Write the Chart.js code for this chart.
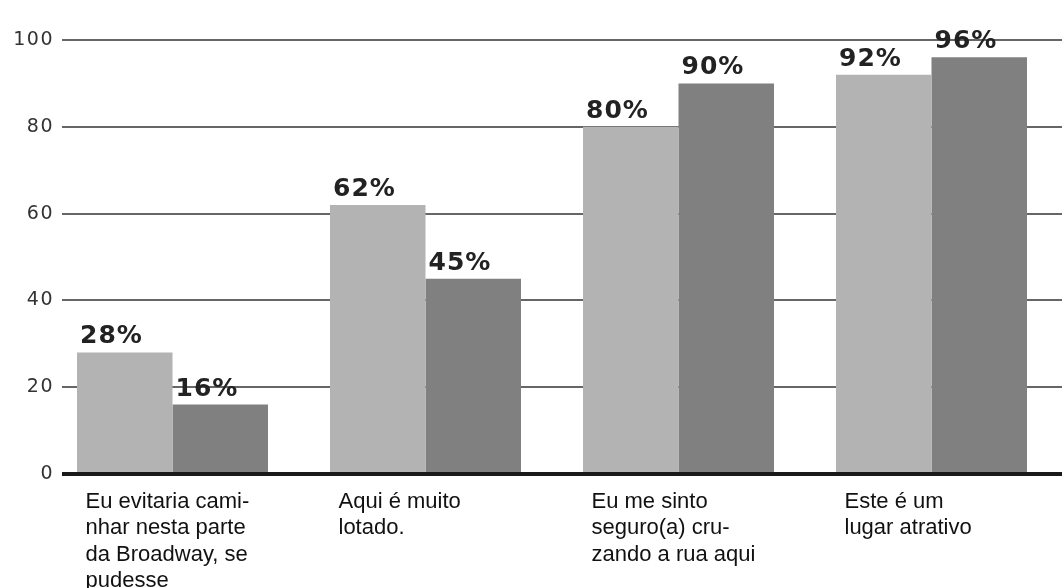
<!DOCTYPE html>
<html>
<head>
<meta charset="utf-8">
<script src="https://cdn.jsdelivr.net/npm/chart.js@4"></script>
<style>
  html, body { margin: 0; padding: 0; background: #fff; }
  #wrap { width: 1062px; height: 588px; }
</style>
</head>
<body>
<div id="wrap"><canvas id="myChart" width="1062" height="588"></canvas></div>
<script>
var categories = [
  ['Eu evitaria cami-', 'nhar nesta parte', 'da Broadway, se', 'pudesse'],
  ['Aqui é muito', 'lotado.'],
  ['Eu me sinto', 'seguro(a) cru-', 'zando a rua aqui'],
  ['Este é um', 'lugar atrativo']
];
var seriesA = [28, 62, 80, 92];
var seriesB = [16, 45, 90, 96];
var yTicks = [0, 20, 40, 60, 80, 100];

// horizontal rules and y labels, drawn outside the chart area to the left
var gridLines = {
  id: 'gridLines',
  beforeDatasetsDraw: function(chart) {
    var ctx = chart.ctx, y = chart.scales.y;
    ctx.save();
    ctx.font = '19px "DejaVu Sans"';
    ctx.fillStyle = '#333';
    ctx.textAlign = 'right';
    ctx.textBaseline = 'middle';
    ctx.letterSpacing = '1.5px';
    yTicks.forEach(function(t) {
      var py = Math.round(y.getPixelForValue(t));
      ctx.fillText(String(t), 54, py);
      if (t === 0) return;
      ctx.beginPath();
      ctx.strokeStyle = '#333';
      ctx.lineWidth = 1.3;
      ctx.moveTo(62, py);
      ctx.lineTo(chart.width, py);
      ctx.stroke();
    });
    ctx.restore();
  },
  afterDatasetsDraw: function(chart) {
    var ctx = chart.ctx, y = chart.scales.y;
    var py = Math.round(y.getPixelForValue(0));
    ctx.save();
    ctx.strokeStyle = '#1a1a1a';
    ctx.lineWidth = 4;
    ctx.beginPath();
    ctx.moveTo(62, py);
    ctx.lineTo(chart.width, py);
    ctx.stroke();
    ctx.restore();
  }
};

// percentage labels above each bar
var valueLabels = {
  id: 'valueLabels',
  afterDatasetsDraw: function(chart) {
    var ctx = chart.ctx;
    ctx.save();
    ctx.font = 'bold 25px "DejaVu Sans"';
    ctx.fillStyle = '#222';
    ctx.textAlign = 'left';
    ctx.textBaseline = 'alphabetic';
    ctx.letterSpacing = '1px';
    chart.data.datasets.forEach(function(ds, i) {
      chart.getDatasetMeta(i).data.forEach(function(bar, j) {
        ctx.fillText(ds.data[j] + '%', bar.x - bar.width / 2 + 3, bar.y - 9);
      });
    });
    ctx.restore();
  }
};

var ctx = document.getElementById('myChart').getContext('2d');
var myChart = new Chart(ctx, {
  type: 'bar',
  data: {
    labels: categories,
    datasets: [{
      label: 'A',
      data: seriesA,
      backgroundColor: '#b3b3b3'
    }, {
      label: 'B',
      data: seriesB,
      backgroundColor: '#808080'
    }]
  },
  options: {
    responsive: false,
    animation: false,
    layout: { padding: { top: 40, right: 4, left: 0, bottom: 0 } },
    plugins: {
      legend: { display: false },
      tooltip: { enabled: false }
    },
    datasets: {
      bar: { categoryPercentage: 0.755, barPercentage: 1.0 }
    },
    scales: {
      x: {
        grid: { display: false, drawTicks: false },
        border: { display: false },
        afterFit: function(scale) {
          scale.height = 114;
          scale.paddingLeft = 0;
          scale.paddingRight = 0;
        },
        ticks: {
          align: 'start',
          labelOffset: -87,
          padding: 15,
          maxRotation: 0,
          autoSkip: false,
          color: '#111',
          font: { family: '"Liberation Sans"', size: 22, lineHeight: 1.19 }
        }
      },
      y: {
        min: 0,
        max: 100,
        grid: { display: false, drawTicks: false },
        border: { display: false },
        afterFit: function(scale) { scale.width = 46; },
        ticks: { display: false, stepSize: 20 }
      }
    }
  },
  plugins: [gridLines, valueLabels]
});
</script>
</body>
</html>
